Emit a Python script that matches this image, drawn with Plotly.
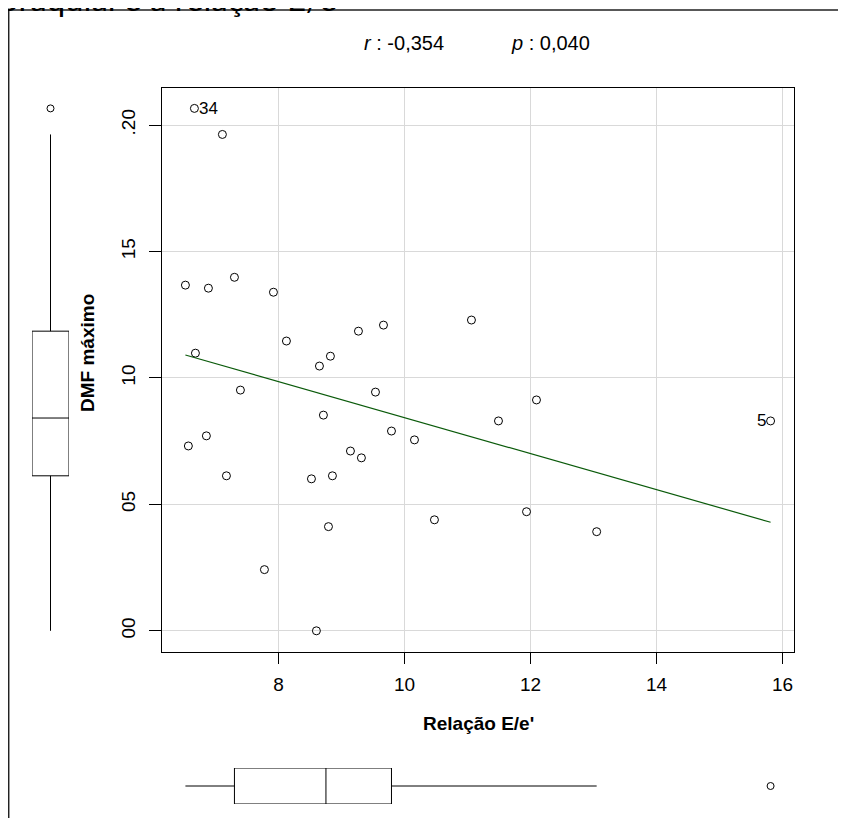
import numpy as np
import plotly.graph_objects as go

# ---------------- data ----------------
relacao_ee = [6.524, 6.889, 7.302, 7.921, 15.810, 8.127, 6.683, 9.270, 9.667, 11.063,
              8.825, 8.651, 7.397, 9.540, 8.714, 11.492, 12.095, 7.111, 9.794, 10.159,
              6.857, 6.571, 9.143, 9.317, 7.175, 8.524, 8.857, 8.794, 10.476, 11.937,
              13.050, 7.778, 8.603, 6.667]
dmf_maximo = [0.1367, 0.1355, 0.1398, 0.1339, 0.0830, 0.1146, 0.1098, 0.1185, 0.1209, 0.1229,
              0.1086, 0.1047, 0.0952, 0.0944, 0.0853, 0.0830, 0.0913, 0.1963, 0.0790, 0.0755,
              0.0771, 0.0731, 0.0711, 0.0684, 0.0613, 0.0601, 0.0613, 0.0412, 0.0439, 0.0471,
              0.0392, 0.0242, 0.0000, 0.2066]
labelled_ids = [34, 5]          # case numbers written next to their points
x_tick_vals = [8, 10, 12, 14, 16]
y_tick_vals = [0.00, 0.05, 0.10, 0.15, 0.20]
y_tick_text = ["00", "05", "10", "15", ".20"]
r_value = "-0,354"
p_value = "0,040"
x_title = "Relação E/e'"
y_title = "DMF máximo"
page_title = "braquial e a relação E/e'"

# ---------------- layout helpers ----------------
# the page body has an 8px margin, so the figure fills the rest of the window
OFF = 8
W, H = 846 - OFF, 818 - OFF
def fx(p):          # page pixel x -> paper fraction
    return (p - OFF) / W
def fy(p):          # page pixel y -> paper fraction
    return 1 - (p - OFF) / H

x = np.array(relacao_ee)
y = np.array(dmf_maximo)

def ext(a):         # R style 4% range extension
    lo, hi = float(np.min(a)), float(np.max(a))
    d = (hi - lo) * 0.04
    return [lo - d, hi + d]

x_range = ext(x)
y_range = ext(y)

FONT = "Liberation Sans, Arial, sans-serif"
fig = go.Figure()

fig.add_trace(go.Scatter(
    x=x, y=y, mode="markers",
    marker=dict(symbol="circle-open", size=8, color="black", line=dict(width=1, color="black")),
    showlegend=False, hoverinfo="x+y"))

b1, b0 = np.polyfit(x, y, 1)
xl = np.array([x.min(), x.max()])
fig.add_trace(go.Scatter(
    x=xl, y=b0 + b1 * xl, mode="lines",
    line=dict(color="#0a5a0a", width=1.2), showlegend=False, hoverinfo="skip"))

box_marker = dict(symbol="circle-open", size=7, color="black", line=dict(width=1, color="black"))
fig.add_trace(go.Box(
    y=y, x0=0, width=1, xaxis="x2", yaxis="y2",
    boxpoints="outliers", quartilemethod="exclusive",
    fillcolor="white", line=dict(color="black", width=1), whiskerwidth=0,
    marker=box_marker, showlegend=False, hoverinfo="skip"))
fig.add_trace(go.Box(
    x=x, y0=0, width=1, xaxis="x3", yaxis="y3", orientation="h",
    boxpoints="outliers", quartilemethod="exclusive",
    fillcolor="white", line=dict(color="black", width=1), whiskerwidth=0,
    marker=box_marker, showlegend=False, hoverinfo="skip"))

# main plot box in page pixels
L, R, T, B = 162, 794, 87.5, 651.7

axis_common = dict(showline=True, linecolor="black", linewidth=1, mirror=True,
                   ticks="outside", tickcolor="black", tickwidth=1,
                   showgrid=True, gridcolor="#d9d9d9", gridwidth=1, zeroline=False,
                   tickfont=dict(family=FONT, size=19, color="black"))

fig.update_layout(
    width=W, height=H,
    margin=dict(l=0, r=0, t=0, b=0),
    paper_bgcolor="white", plot_bgcolor="white",
    xaxis=dict(domain=[fx(L), fx(R)], range=x_range, tickvals=x_tick_vals,
               ticklen=11, ticklabelstandoff=4, anchor="y", **axis_common),
    yaxis=dict(domain=[fy(B), fy(T)], range=y_range, tickvals=y_tick_vals,
               ticktext=y_tick_text, tickangle=-90, ticklen=12, ticklabelstandoff=6,
               anchor="x", **axis_common),
    xaxis2=dict(domain=[fx(32), fx(69)], range=[-0.5, 0.5], visible=False, anchor="y2"),
    yaxis2=dict(domain=[fy(B), fy(T)], range=y_range, visible=False, anchor="x2"),
    xaxis3=dict(domain=[fx(L), fx(R)], range=x_range, visible=False, anchor="y3"),
    yaxis3=dict(domain=[fy(804), fy(768)], range=[-0.5, 0.5], visible=False, anchor="x3"),
)

ann = []
ann.append(dict(x=fx((L + R) / 2), y=fy(723), xref="paper", yref="paper", text="<b>%s</b>" % x_title,
                showarrow=False, font=dict(family=FONT, size=19, color="black"),
                xanchor="center", yanchor="middle"))
ann.append(dict(x=fx(87), y=fy(353), xref="paper", yref="paper", text="<b>%s</b>" % y_title,
                showarrow=False, textangle=-90, font=dict(family=FONT, size=19, color="black"),
                xanchor="center", yanchor="middle"))
ann.append(dict(x=fx(362), y=fy(43), xref="paper", yref="paper",
                text="<i>r</i> : %s" % r_value, showarrow=False,
                font=dict(family=FONT, size=20, color="black"), xanchor="left", yanchor="middle"))
ann.append(dict(x=fx(509), y=fy(43), xref="paper", yref="paper",
                text="<i>p</i> : %s" % p_value, showarrow=False,
                font=dict(family=FONT, size=20, color="black"), xanchor="left", yanchor="middle"))
for pid in labelled_ids:
    i = pid - 1
    right_side = x[i] < np.mean(x)
    ann.append(dict(x=x[i], y=y[i], xref="x", yref="y", text=str(pid), showarrow=False,
                    font=dict(family=FONT, size=17, color="black"),
                    xanchor="left" if right_side else "right",
                    xshift=3 if right_side else -3, yanchor="middle"))
# cut-off page title above the frame
ann.append(dict(x=fx(0), y=fy(20), xref="paper", yref="paper", text=page_title, showarrow=False,
                font=dict(family="Lato, sans-serif", size=33, color="black"),
                xanchor="left", yanchor="bottom", xshift=-2))
fig.update_layout(annotations=ann)

# outer frame (cropped at right and bottom)
fig.add_shape(type="rect", xref="paper", yref="paper",
              x0=fx(8.7), x1=1.02, y0=-0.02, y1=fy(10),
              line=dict(color="#222222", width=1.5), fillcolor="rgba(0,0,0,0)", layer="above")

fig.write_html("out.html")
